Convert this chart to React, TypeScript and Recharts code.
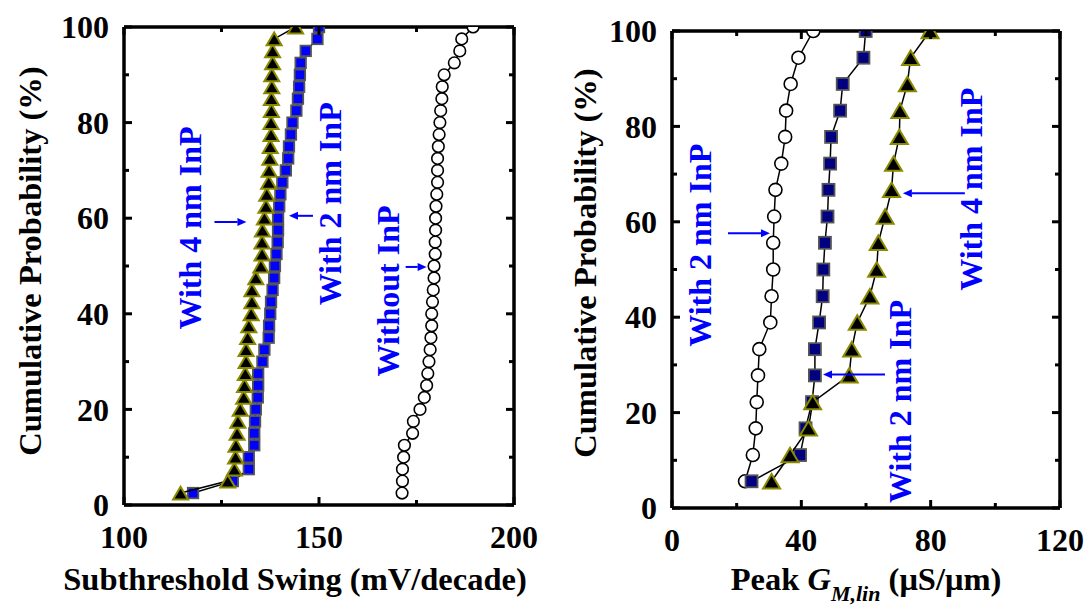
import React from "react";
import { ScatterChart, Scatter, XAxis, YAxis, ReferenceLine, ReferenceDot } from "recharts";

// left panel: subthreshold swing, 40 devices per split
const probLeft = [
  2.5, 5, 7.5, 10, 12.5, 15, 17.5, 20, 22.5, 25, 27.5, 30, 32.5, 35, 37.5, 40, 42.5, 45, 47.5, 50,
  52.5, 55, 57.5, 60, 62.5, 65, 67.5, 70, 72.5, 75, 77.5, 80, 82.5, 85, 87.5, 90, 92.5, 95, 97.5, 100,
];
const ssWithout = [
  171.3, 171.4, 171.4, 171.7, 171.9, 174.0, 174.2, 175.9, 177.0, 177.6, 177.9, 178.2, 178.5, 178.7,
  178.9, 178.9, 179.1, 179.3, 179.5, 179.5, 179.8, 179.8, 179.9, 179.9, 180.0, 180.2, 180.4, 180.4,
  180.4, 180.6, 180.8, 181.0, 181.2, 181.5, 181.6, 182.1, 184.7, 186.1, 186.6, 189.5,
];
const ss2nm = [
  117.7, 127.9, 132.0, 132.0, 133.4, 133.4, 133.6, 133.8, 134.3, 134.4, 134.4, 135.5, 136.0, 137.1,
  137.2, 137.5, 137.7, 138.1, 138.5, 138.7, 139.1, 139.4, 139.5, 139.5, 139.8, 140.1, 140.6, 141.5,
  142.1, 142.3, 142.8, 143.2, 144.2, 144.6, 144.9, 145.1, 145.3, 146.6, 149.6, 150.0,
];
const ss4nm = [
  114.5, 126.6, 128.3, 128.6, 128.7, 129.0, 129.2, 129.8, 130.7, 130.9, 131.1, 131.3, 131.3, 131.7,
  132.0, 132.6, 132.8, 132.8, 133.8, 135.1, 135.4, 135.4, 135.5, 136.0, 136.4, 136.6, 137.1, 137.2,
  137.4, 137.5, 137.7, 137.7, 137.8, 137.8, 137.9, 137.9, 138.1, 138.1, 138.5, 144.0,
];
const ssTicks = [100, 125, 150, 175, 200];
const ssLabels = [100, 150, 200];

// right panel: peak Gm, 18 devices per split
const probRight = [5.6, 11.1, 16.7, 22.2, 27.8, 33.3, 38.9, 44.4, 50, 55.6, 61.1, 66.7, 72.2, 77.8, 83.3, 88.9, 94.4, 100];
const gmCircles = [22.6, 25.0, 25.9, 26.2, 26.6, 27.0, 30.4, 30.8, 31.3, 31.3, 31.6, 32.0, 33.8, 35.0, 35.3, 36.7, 39.1, 43.7];
const gmSquares = [24.6, 39.6, 41.3, 43.3, 44.2, 44.2, 45.5, 46.6, 46.8, 47.3, 48.1, 48.4, 48.9, 49.2, 52.0, 52.8, 59.2, 59.9];
const gmTriangles = [30.8, 36.5, 42.2, 43.5, 54.8, 55.6, 57.3, 61.2, 63.3, 63.8, 65.9, 67.9, 68.5, 70.3, 70.5, 72.8, 73.8, 79.8];
const gmTicks = [0, 20, 40, 60, 80, 100, 120];
const gmLabels = [0, 40, 80, 120];

const probTicks = [0, 10, 20, 30, 40, 50, 60, 70, 80, 90, 100];
const probLabels = [0, 20, 40, 60, 80, 100];

const zip = (xs: number[], ys: number[]) => xs.map((x, i) => ({ x, y: ys[i] }));

const FONT = "'Liberation Serif', 'Times New Roman', serif";
const BLUE = "#0000ff";

const Circle = (r: number) => (p: any) => (
  <circle cx={p.cx} cy={p.cy} r={r} fill="#fff" stroke="#000" strokeWidth={1.6} />
);
const Square = (s: number, fill: string) => (p: any) => (
  <rect x={p.cx - s / 2} y={p.cy - s / 2} width={s} height={s} fill={fill} stroke="#555" strokeWidth={1.8} />
);
const Triangle = (w: number) => (p: any) => {
  const h = w * 0.85;
  return (
    <polygon
      points={`${p.cx - w / 2},${p.cy + h / 2} ${p.cx + w / 2},${p.cy + h / 2} ${p.cx},${p.cy - h / 2}`}
      fill="#000"
      stroke="#8a8a00"
      strokeWidth={2}
    />
  );
};

const xTick = (labels: number[], plotH: number) => (p: any) => {
  const v = p.payload.value;
  const major = labels.includes(v);
  const len = major ? 8 : 5;
  return (
    <g>
      <line x1={p.x} y1={p.y} x2={p.x} y2={p.y - len} stroke="#000" strokeWidth={3} />
      <line x1={p.x} y1={p.y - plotH} x2={p.x} y2={p.y - plotH + len} stroke="#000" strokeWidth={3} />
      {major && (
        <text x={p.x} y={p.y + 43} textAnchor="middle" fontFamily={FONT} fontWeight="bold" fontSize={32} fill="#000">
          {v}
        </text>
      )}
    </g>
  );
};

const yTick = (labels: number[], plotW: number) => (p: any) => {
  const v = p.payload.value;
  const major = labels.includes(v);
  const len = major ? 8 : 5;
  return (
    <g>
      <line x1={p.x} y1={p.y} x2={p.x + len} y2={p.y} stroke="#000" strokeWidth={3} />
      <line x1={p.x + plotW} y1={p.y} x2={p.x + plotW - len} y2={p.y} stroke="#000" strokeWidth={3} />
      {major && (
        <text x={p.x - 15} y={p.y} dy="0.35em" textAnchor="end" fontFamily={FONT} fontWeight="bold" fontSize={32} fill="#000">
          {v}
        </text>
      )}
    </g>
  );
};

// blue rotated label with an arrow whose tip sits on the data anchor
const Note = (text: string, tail: number, tx: number, ty: number) => (p: any) => {
  const { cx, cy } = p;
  const dir = tail < 0 ? 1 : -1;
  const head = 9;
  return (
    <g>
      <line x1={cx + tail} y1={cy} x2={cx - dir * head} y2={cy} stroke={BLUE} strokeWidth={2} />
      <polygon points={`${cx},${cy} ${cx - dir * head},${cy - 4} ${cx - dir * head},${cy + 4}`} fill={BLUE} />
      <text
        x={cx + tx}
        y={cy + ty}
        dy="0.35em"
        transform={`rotate(-90 ${cx + tx} ${cy + ty})`}
        textAnchor="middle"
        fontFamily={FONT}
        fontWeight="bold"
        fontSize={32}
        fill={BLUE}
      >
        {text}
      </text>
    </g>
  );
};

const lineStyle = { stroke: "#000", strokeWidth: 1.5 };
const axisStyle = { stroke: "#000", strokeWidth: 3.5 };

function LeftChart() {
  const W = 390;
  const H = 478;
  return (
    <ScatterChart width={540} height={605} margin={{ top: 27, right: 26, bottom: 40, left: 0 }}>
      <XAxis type="number" dataKey="x" domain={[100, 200]} ticks={ssTicks} interval={0} allowDataOverflow
        tick={xTick(ssLabels, H)} tickLine={false} tickSize={0} tickMargin={0} axisLine={axisStyle} height={60} />
      <YAxis type="number" dataKey="y" domain={[0, 100]} ticks={probTicks} interval={0} allowDataOverflow
        tick={yTick(probLabels, W)} tickLine={false} tickSize={0} tickMargin={0} axisLine={axisStyle} width={124} />
      <ReferenceLine y={100} stroke="#000" strokeWidth={3.5} />
      <ReferenceLine x={200} stroke="#000" strokeWidth={3.5} />
      <Scatter data={zip(ssWithout, probLeft)} line={lineStyle} shape={Circle(5.8)} isAnimationActive={false} />
      <Scatter data={zip(ss2nm, probLeft)} line={lineStyle} shape={Square(10.5, "#0000ff")} isAnimationActive={false} />
      <Scatter data={zip(ss4nm, probLeft)} line={lineStyle} shape={Triangle(15)} isAnimationActive={false} />
      <ReferenceDot x={131.4} y={59.2} r={0} shape={Note("With 4 nm InP", -32, -57, 6)} />
      <ReferenceDot x={142.3} y={60.5} r={0} shape={Note("With 2 nm InP", 24, 41, -12)} />
      <ReferenceDot x={177.6} y={49.8} r={0} shape={Note("Without InP", -21, -39, 24)} />
    </ScatterChart>
  );
}

function RightChart() {
  const W = 388;
  const H = 477;
  return (
    <ScatterChart width={540} height={605} margin={{ top: 31, right: 28, bottom: 37, left: 0 }}>
      <XAxis type="number" dataKey="x" domain={[0, 120]} ticks={gmTicks} interval={0} allowDataOverflow
        tick={xTick(gmLabels, H)} tickLine={false} tickSize={0} tickMargin={0} axisLine={axisStyle} height={60} />
      <YAxis type="number" dataKey="y" domain={[0, 100]} ticks={probTicks} interval={0} allowDataOverflow
        tick={yTick(probLabels, W)} tickLine={false} tickSize={0} tickMargin={0} axisLine={axisStyle} width={124} />
      <ReferenceLine y={100} stroke="#000" strokeWidth={3.5} />
      <ReferenceLine x={120} stroke="#000" strokeWidth={3.5} />
      <Scatter data={zip(gmCircles, probRight)} line={lineStyle} shape={Circle(6.5)} isAnimationActive={false} />
      <Scatter data={zip(gmSquares, probRight)} line={lineStyle} shape={Square(12, "#000080")} isAnimationActive={false} />
      <Scatter data={zip(gmTriangles, probRight)} line={lineStyle} shape={Triangle(17)} isAnimationActive={false} />
      <ReferenceDot x={30.3} y={57.6} r={0} shape={Note("With 2 nm InP", -42, -70, 12)} />
      <ReferenceDot x={46.7} y={28.0} r={0} shape={Note("With 2 nm InP", 62, 77, 27)} />
      <ReferenceDot x={71.4} y={66.0} r={0} shape={Note("With 4 nm InP", 62, 68, -4)} />
    </ScatterChart>
  );
}

const titleStyle: React.CSSProperties = {
  position: "absolute",
  fontFamily: FONT,
  fontWeight: "bold",
  fontSize: 32.5,
  whiteSpace: "nowrap",
  color: "#000",
  lineHeight: 1,
};

export default function App() {
  return (
    <div style={{ position: "absolute", left: 0, top: 0, width: 1088, height: 605, background: "#fff", overflow: "hidden" }}>
      <div style={{ position: "absolute", left: 0, top: 0 }}>
        <LeftChart />
      </div>
      <div style={{ position: "absolute", left: 548, top: 0 }}>
        <RightChart />
      </div>
      <div style={{ ...titleStyle, left: 30, top: 261, transform: "translate(-50%, -50%) rotate(-90deg)" }}>
        Cumulative Probability (%)
      </div>
      <div style={{ ...titleStyle, left: 585, top: 263, transform: "translate(-50%, -50%) rotate(-90deg)" }}>
        Cumulative Probability (%)
      </div>
      <div style={{ ...titleStyle, left: 295, top: 579, transform: "translate(-50%, -50%)" }}>
        Subthreshold Swing (mV/decade)
      </div>
      <div style={{ ...titleStyle, left: 866, top: 579, transform: "translate(-50%, -50%)" }}>
        Peak <i>G</i>
        <span style={{ fontSize: 22, fontStyle: "italic", position: "relative", top: 11 }}>M,lin</span> (μS/μm)
      </div>
    </div>
  );
}
